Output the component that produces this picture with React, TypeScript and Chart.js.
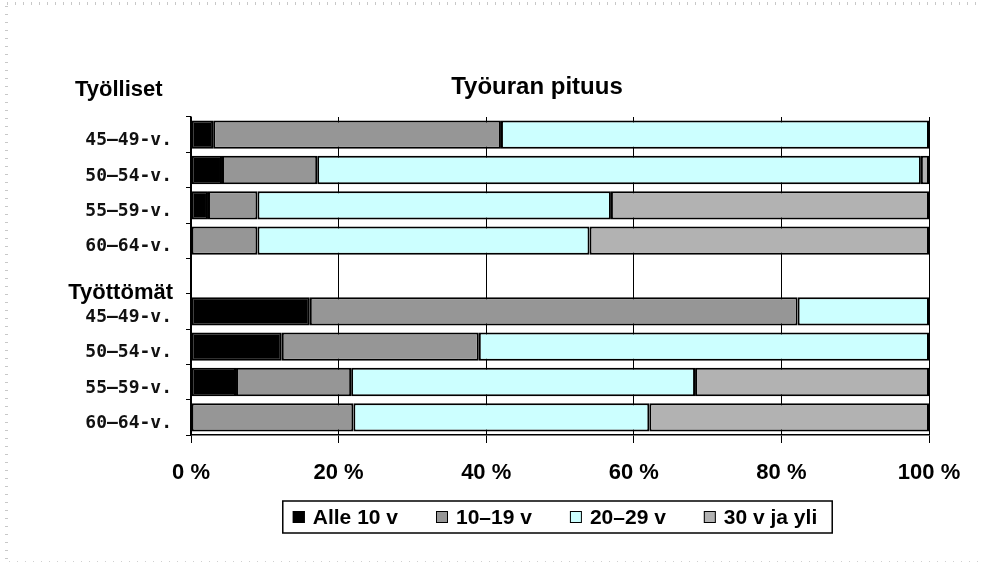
import React, { useEffect, useRef } from "react";
import { Chart, registerables } from "chart.js";

Chart.register(...registerables);

const categories = ["45–49-v.", "50–54-v.", "55–59-v.", "60–64-v.", "", "45–49-v.", "50–54-v.", "55–59-v.", "60–64-v."];
const groupLabels = ["Työlliset", "Työttömät"];
const seriesNames = ["Alle 10 v", "10–19 v", "20–29 v", "30 v ja yli"];
const under10 = [3.0, 4.2, 2.3, 0, null, 16.1, 12.3, 6.1, 0];
const y10to19 = [39.0, 12.9, 6.7, 9.0, null, 66.1, 26.7, 15.6, 22.0];
const y20to29 = [58.0, 81.8, 47.9, 45.0, null, 17.8, 61.0, 46.6, 40.1];
const y30plus = [0, 1.1, 43.1, 46.0, null, 0, 0, 31.7, 37.9];
const xTickLabels = ["0 %", "20 %", "40 %", "60 %", "80 %", "100 %"];
const titleText = "Työuran pituus";

const seriesColors = ["#000000", "#969696", "#CCFFFF", "#B2B2B2"];
const SANS = "'Liberation Sans', Arial, sans-serif";
const MONO = "'DejaVu Sans Mono', 'Liberation Mono', monospace";

const decorPlugin = {
  id: "decor",
  afterDraw(chart: any) {
    const { ctx, chartArea, scales } = chart;
    const y = scales.y;
    const midX = (chartArea.left + chartArea.right) / 2;
    ctx.save();
    ctx.fillStyle = "#000";
    ctx.textBaseline = "middle";

    // title
    ctx.font = `bold 24px ${SANS}`;
    ctx.textAlign = "center";
    ctx.fillText(titleText, midX - 23, chartArea.top - 30);

    // group headers
    ctx.font = `bold 22px ${SANS}`;
    ctx.textAlign = "left";
    ctx.fillText(groupLabels[0], chartArea.left - 116, chartArea.top - 27);
    ctx.textAlign = "right";
    const yb = (y.getPixelForValue(4) + y.getPixelForValue(5)) / 2;
    ctx.fillText(groupLabels[1], chartArea.left - 18, yb - 1);

    // legend
    ctx.font = `bold 21px ${SANS}`;
    const widths = seriesNames.map((n) => ctx.measureText(n).width);
    const sq = 12;
    const gapT = 8;
    const gapI = 38;
    const itemsW = widths.reduce((a, w) => a + sq + gapT + w, 0) + gapI * (seriesNames.length - 1);
    const boxW = itemsW + 25;
    const cx = midX - 2.5;
    const bx = cx - boxW / 2;
    const by = chartArea.bottom + 66;
    const bh = 32;
    ctx.strokeStyle = "#000";
    ctx.lineWidth = 1.5;
    ctx.strokeRect(bx, by, boxW, bh);
    const cy = by + bh / 2;
    let x = bx + 10;
    ctx.textAlign = "left";
    chart.data.datasets.forEach((ds: any, i: number) => {
      ctx.fillStyle = ds.backgroundColor;
      ctx.fillRect(x, cy - 6, sq, sq);
      ctx.lineWidth = 1;
      ctx.strokeRect(x + 0.5, cy - 5.5, sq - 1, sq - 1);
      ctx.fillStyle = "#000";
      ctx.fillText(seriesNames[i], x + sq + gapT, cy + 1);
      x += sq + gapT + widths[i] + gapI;
    });
    ctx.restore();
  },
};

export default function App() {
  const ref = useRef<HTMLCanvasElement | null>(null);
  useEffect(() => {
    if (!ref.current) return;
    const series = [under10, y10to19, y20to29, y30plus];
    const chart = new Chart(ref.current, {
      type: "bar",
      data: {
        labels: categories,
        datasets: series.map((d, i) => ({
          label: seriesNames[i],
          data: d,
          backgroundColor: seriesColors[i],
          borderColor: "#000",
          borderWidth: 2,
          borderSkipped: false,
          barPercentage: 0.8,
          categoryPercentage: 1,
        })),
      },
      options: {
        indexAxis: "y",
        responsive: false,
        animation: false,
        layout: { padding: { top: 117, left: 60, right: 54, bottom: 74 } },
        scales: {
          x: {
            stacked: true,
            min: 0,
            max: 100,
            ticks: {
              stepSize: 20,
              callback: (_v: any, i: number) => xTickLabels[i],
              font: { family: SANS, size: 22, weight: "bold" },
              color: "#000",
              padding: 17,
              maxRotation: 0,
            },
            grid: { color: "#000", lineWidth: 1, tickLength: 8, drawOnChartArea: true },
            border: { color: "#000", width: 1.5 },
            afterFit: (s: any) => {
              s.height = 54;
            },
          },
          y: {
            stacked: true,
            ticks: {
              font: { family: MONO, size: 18, weight: "bold" },
              color: "#111",
              padding: 14,
              labelOffset: 6,
              autoSkip: false,
            },
            grid: { drawOnChartArea: false, color: "#000", tickLength: 5, offset: true },
            border: { color: "#000", width: 1.5 },
            afterFit: (s: any) => {
              s.width = 131;
            },
          },
        },
        plugins: {
          title: { display: false },
          legend: { display: false },
          tooltip: { enabled: false },
        },
      },
      plugins: [decorPlugin],
    } as any);
    return () => chart.destroy();
  }, []);

  return (
    <div style={{ position: "absolute", left: 0, top: 0, width: 983, height: 563, background: "#fff", overflow: "hidden" }}>
      <div style={{ position: "absolute", left: 7, top: 2, width: 976, height: 3, background: "repeating-linear-gradient(to right, #c8c8c8 0 1px, transparent 1px 8px)" }} />
      <div style={{ position: "absolute", left: 5, top: 6, width: 3, height: 556, background: "repeating-linear-gradient(to bottom, #c8c8c8 0 1px, transparent 1px 8px)" }} />
      <div style={{ position: "absolute", left: 9, top: 561, width: 974, height: 1, background: "repeating-linear-gradient(to right, #d0d0d0 0 1px, transparent 1px 8px)" }} />
      <canvas ref={ref} width={983} height={563} style={{ position: "absolute", left: 0, top: 0 }} />
    </div>
  );
}
